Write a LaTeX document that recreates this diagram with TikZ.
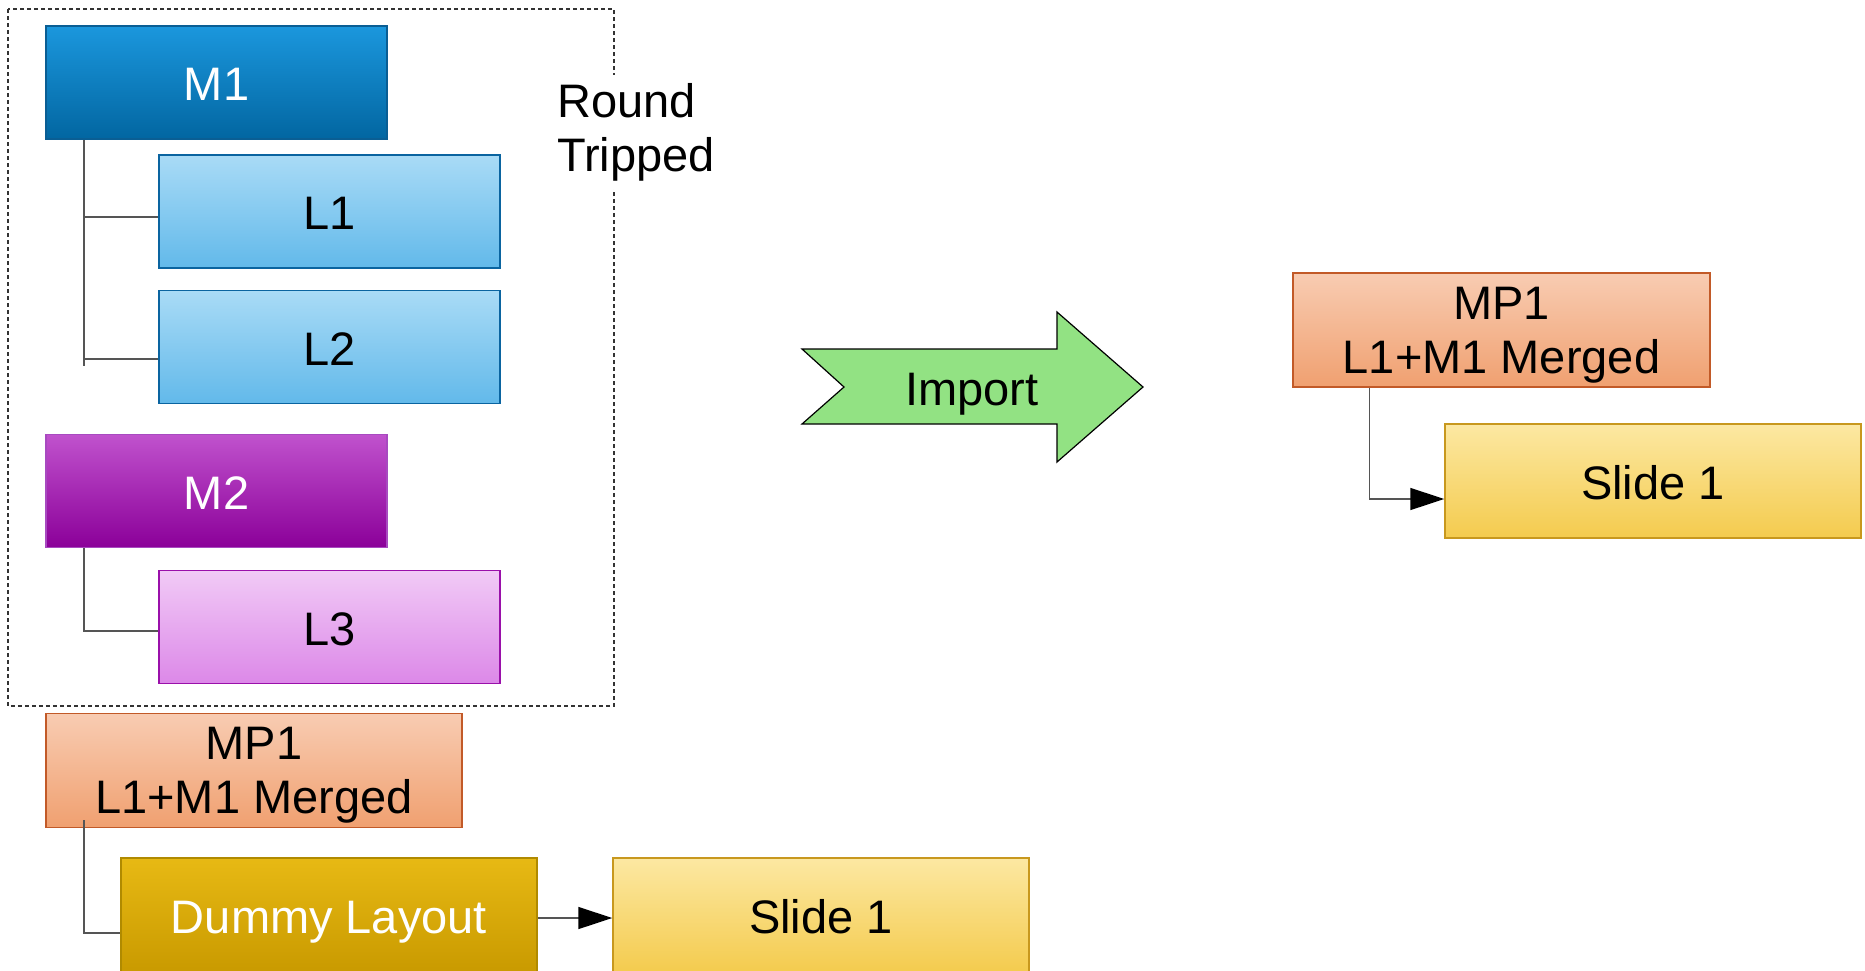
\documentclass[tikz,border=0pt]{standalone}
\usepackage{fontspec}
\setmainfont{Liberation Sans}
\usetikzlibrary{arrows.meta}
\definecolor{mOneT}{HTML}{1B97DD}
\definecolor{mOneB}{HTML}{0266A1}
\definecolor{mOneD}{HTML}{0A5E94}
\definecolor{lOneT}{HTML}{A9DBF6}
\definecolor{lOneB}{HTML}{62B9EA}
\definecolor{lOneD}{HTML}{0A64A0}
\definecolor{mTwoT}{HTML}{C052CD}
\definecolor{mTwoB}{HTML}{8B0099}
\definecolor{mTwoD}{HTML}{A84AC0}
\definecolor{lThrT}{HTML}{F1CAF6}
\definecolor{lThrB}{HTML}{DC88E8}
\definecolor{lThrD}{HTML}{9A10AA}
\definecolor{mpT}{HTML}{F8CCB2}
\definecolor{mpB}{HTML}{F0A070}
\definecolor{mpD}{HTML}{C25A28}
\definecolor{dmT}{HTML}{E7B914}
\definecolor{dmB}{HTML}{C99A00}
\definecolor{dmD}{HTML}{B08A00}
\definecolor{slT}{HTML}{FCE8A2}
\definecolor{slB}{HTML}{F4CB4E}
\definecolor{slD}{HTML}{C8981E}
\definecolor{impG}{HTML}{92E283}
\definecolor{connC}{HTML}{555555}
\begin{document}
\begin{tikzpicture}[x=1pt,y=-1pt,
  font=\fontsize{47}{54}\selectfont,
  box/.style={rectangle, draw, line width=1.5pt, inner sep=0pt, align=center},
  oneline/.style={text height=38pt, text depth=2pt},
  twoline/.style={text depth=0pt},
  narrow/.style={box, oneline, minimum width=341pt, minimum height=113pt},
  wide/.style={box, minimum width=416pt, minimum height=114pt},
  conn/.style={draw=connC, line width=1.5pt},
  arr/.style={conn, -{Triangle[length=34pt,width=22pt,fill=black,color=black]}}
]
\useasboundingbox (0,0) rectangle (1865,970);
% dashed round-trip frame
\draw[dashed, dash pattern=on 4pt off 3pt, line width=1.2pt, black!80] (8,9) rectangle (614,706);
\node[anchor=west, fill=white, inner xsep=0pt, inner ysep=8pt, align=left] (rt) at (557,132) {Round\\Tripped};

% left tree
\node[narrow, top color=mOneT, bottom color=mOneB, draw=mOneD, text=white] (M1) at (216.5,82.5) {M1};
\node[narrow, top color=lOneT, bottom color=lOneB, draw=lOneD] (L1) at (329.5,211.5) {L1};
\node[narrow, top color=lOneT, bottom color=lOneB, draw=lOneD] (L2) at (329.5,347) {L2};
\node[narrow, top color=mTwoT, bottom color=mTwoB, draw=mTwoD, text=white] (M2) at (216.5,491) {M2};
\node[narrow, top color=lThrT, bottom color=lThrB, draw=lThrD] (L3) at (329.5,627) {L3};

\coordinate (v1) at (84,366);
\coordinate (L1b) at ([yshift=-5.5pt]L1.west);
\coordinate (L2b) at ([yshift=-12pt]L2.west);
\coordinate (L3b) at ([yshift=-4pt]L3.west);
\draw[conn] (M1.south -| v1) -- (v1);
\draw[conn] (v1 |- L1b) -- (L1b);
\draw[conn] (v1 |- L2b) -- (L2b);
\draw[conn] (M2.south -| v1) |- (L3b);

% bottom part
\node[wide, twoline, top color=mpT, bottom color=mpB, draw=mpD] (MPa) at (254,770.5) {MP1\\L1+M1 Merged};
\node[wide, oneline, top color=dmT, bottom color=dmB, draw=dmD, text=white] (DL) at (329,915) {Dummy Layout};
\node[wide, oneline, top color=slT, bottom color=slB, draw=slD] (SLa) at (821,915) {Slide 1};
\coordinate (Db) at ([yshift=-18pt]DL.west);
\draw[conn] ([yshift=8pt]MPa.south -| v1) |- (Db);
\draw[arr] ([yshift=-3pt]DL.east) -- ([yshift=-3pt]SLa.west);

% import arrow
\draw[fill=impG, line width=1.2pt, line join=miter] (802,349) -- (1057,349) -- (1057,312) -- (1143,387) -- (1057,462) -- (1057,424) -- (802,424) -- (844,387) -- cycle;
\node[oneline] (imp) at (972,387) {Import};

% right part
\node[wide, twoline, top color=mpT, bottom color=mpB, draw=mpD, minimum width=417pt] (MPb) at (1501.5,330) {MP1\\L1+M1 Merged};
\node[wide, oneline, top color=slT, bottom color=slB, draw=slD] (SLb) at (1653,481) {Slide 1};
\coordinate (Sb) at ([yshift=-18pt]SLb.west);
\draw[arr] ([xshift=77pt]MPb.south west) |- (Sb);
\end{tikzpicture}
\end{document}
